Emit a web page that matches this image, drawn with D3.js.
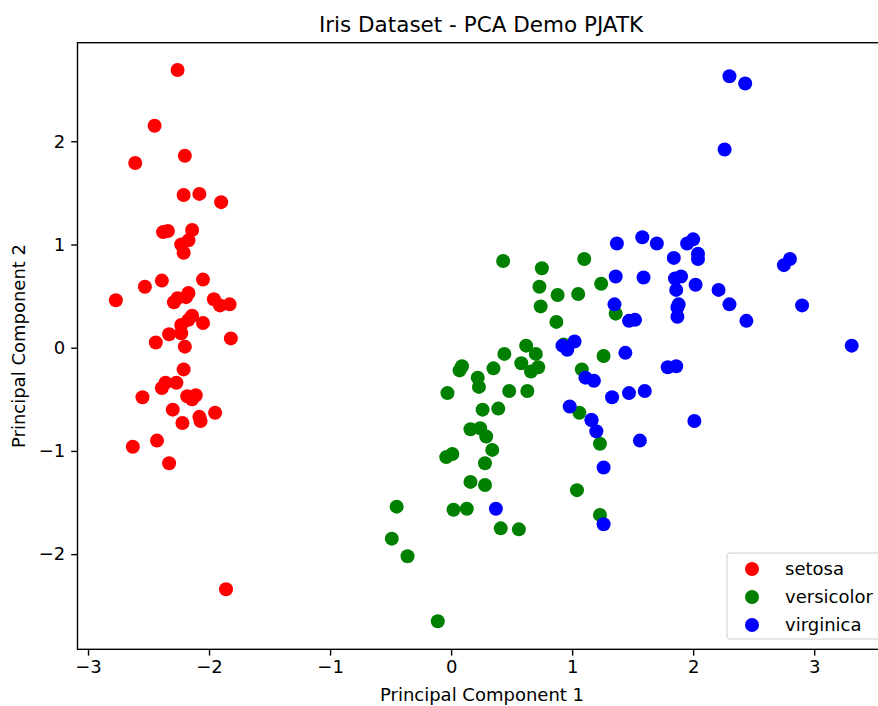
<!DOCTYPE html>
<html><head><meta charset="utf-8">
<script src="https://cdn.jsdelivr.net/npm/d3@7"></script>
<style>body{margin:0;background:#fff}svg{display:block}text{font-family:"DejaVu Sans",sans-serif}</style>
</head><body>
<svg id="c" width="878" height="706"></svg>
<script>
const species = ["setosa","versicolor","virginica"];
const colors = ["#ff0000","#008000","#0000ff"];
const xTicks = [-3,-2,-1,0,1,2,3];
const yTicks = [-2,-1,0,1,2];
const setosaPC1 = [-2.26,-2.08,-2.36,-2.30,-2.39,-2.08,-2.44,-2.23,-2.33,-2.18,-2.17,-2.33,-2.22,-2.63,-2.20,-2.26,-2.21,-2.19,-1.90,-2.34,-1.91,-2.21,-2.77,-1.82,-2.23,-1.95,-2.05,-2.17,-2.14,-2.27,-2.14,-1.83,-2.61,-2.45,-2.11,-2.21,-2.05,-2.53,-2.43,-2.17,-2.29,-1.86,-2.55,-1.96,-2.14,-2.07,-2.38,-2.39,-2.23,-2.20];
const setosaPC2 = [0.48,-0.67,-0.34,-0.60,0.65,1.49,0.05,0.22,-1.12,-0.47,1.04,0.13,-0.73,-0.96,1.86,2.69,1.48,0.49,1.41,1.13,0.41,0.92,0.46,0.09,0.14,-0.63,0.24,0.53,0.31,-0.34,-0.50,0.42,1.79,2.15,-0.46,-0.21,0.66,0.59,-0.90,0.27,0.44,-2.34,-0.48,0.47,1.14,-0.71,1.12,-0.39,1.00,0.01];
const versicolorPC1 = [1.10,0.73,1.24,0.41,1.08,0.39,0.75,-0.49,0.93,0.01,-0.11,0.44,0.56,0.72,-0.03,0.88,0.35,0.16,1.23,0.16,0.74,0.48,1.23,0.63,0.70,0.87,1.26,1.36,0.66,-0.04,0.13,0.02,0.24,1.06,0.22,0.43,1.05,1.04,0.07,0.28,0.28,0.62,0.34,-0.36,0.29,0.09,0.23,0.58,-0.45,0.26];
const versicolorPC2 = [0.86,0.59,0.62,-1.75,-0.21,-0.59,0.77,-1.85,0.03,-1.03,-2.65,-0.06,-1.76,-0.19,-0.44,0.51,-0.20,-0.79,-1.62,-1.30,0.40,-0.42,-0.93,-0.42,-0.06,0.25,-0.08,0.33,-0.23,-1.06,-1.56,-1.57,-0.78,-0.63,-0.29,0.84,0.52,-1.38,-0.22,-1.33,-1.12,0.02,-0.99,-2.02,-0.86,-0.18,-0.38,-0.15,-1.54,-0.60];
const virginicaPC1 = [1.84,1.16,2.21,1.44,1.87,2.75,0.37,2.30,2.01,2.26,1.36,1.60,1.88,1.26,1.47,1.59,1.47,2.43,3.31,1.26,2.04,0.98,2.90,1.33,1.70,1.95,1.18,1.02,1.79,1.86,2.44,2.30,1.86,1.11,1.20,2.80,1.58,1.35,0.92,1.85,2.02,1.90,1.16,2.04,2.00,1.87,1.56,1.52,1.37,0.96];
const virginicaPC2 = [0.87,-0.70,0.56,-0.05,0.30,0.80,-1.56,0.42,-0.71,1.92,0.69,-0.42,0.42,-1.16,-0.44,0.68,0.26,2.56,0.02,-1.71,0.91,-0.57,0.41,-0.48,1.01,1.01,-0.32,0.06,-0.19,0.56,0.26,2.63,-0.18,-0.29,-0.81,0.86,1.07,0.42,0.02,0.67,0.61,0.69,-0.70,0.86,1.05,0.39,-0.90,0.27,1.01,-0.02];

const seriesX = [setosaPC1, versicolorPC1, virginicaPC1];
const seriesY = [setosaPC2, versicolorPC2, virginicaPC2];

const svg = d3.select("#c");
const L = 77.5, R = 888, T = 42.7, B = 649.3;
const x = d3.scaleLinear().domain([-3.087, 3.61]).range([L, R]);
const y = d3.scaleLinear().domain([-2.922, 2.955]).range([B, T]);

// points
species.forEach((s, i) => {
  svg.append("g").selectAll("circle")
    .data(seriesX[i].map((v, j) => [v, seriesY[i][j]]))
    .join("circle")
    .attr("cx", d => x(d[0])).attr("cy", d => y(d[1]))
    .attr("r", 7).attr("fill", colors[i]);
});

// frame
svg.append("rect").attr("x", L).attr("y", T).attr("width", R - L).attr("height", B - T)
  .attr("fill", "none").attr("stroke", "#000").attr("stroke-width", 1.4);

const fmt = d => d < 0 ? "\u2212" + Math.abs(d) : d;
const xAxis = svg.append("g").attr("transform", `translate(0,${B})`)
  .call(d3.axisBottom(x).tickValues(xTicks).tickSize(6.3).tickPadding(5).tickFormat(fmt));
const yAxis = svg.append("g").attr("transform", `translate(${L},0)`)
  .call(d3.axisLeft(y).tickValues(yTicks).tickSize(6.3).tickPadding(6).tickFormat(fmt));
[xAxis, yAxis].forEach(a => {
  a.select(".domain").remove();
  a.selectAll("text").attr("font-size", 18).attr("fill", "#000").style("font-family", "DejaVu Sans");
  a.selectAll("line").attr("stroke", "#000").attr("stroke-width", 1.4);
});

svg.append("text").attr("x", 481).attr("y", 32).attr("text-anchor", "middle")
  .attr("font-size", 21.5).text("Iris Dataset - PCA Demo PJATK");
svg.append("text").attr("x", 482).attr("y", 701).attr("text-anchor", "middle")
  .attr("font-size", 18).text("Principal Component 1");
svg.append("text").attr("transform", `translate(25,${(T + B) / 2}) rotate(-90)`).attr("text-anchor", "middle")
  .attr("font-size", 18).text("Principal Component 2");

// legend
const lg = svg.append("g");
lg.append("rect").attr("x", 727).attr("y", 553).attr("width", 170).attr("height", 86).attr("rx", 3)
  .attr("fill", "#fff").attr("fill-opacity", 0.8).attr("stroke", "#ccc");
species.forEach((s, i) => {
  const cy = 569 + i * 28;
  lg.append("circle").attr("cx", 752).attr("cy", cy).attr("r", 7).attr("fill", colors[i]);
  lg.append("text").attr("x", 785).attr("y", cy + 6).attr("font-size", 18).text(s);
});
</script>
</body></html>
